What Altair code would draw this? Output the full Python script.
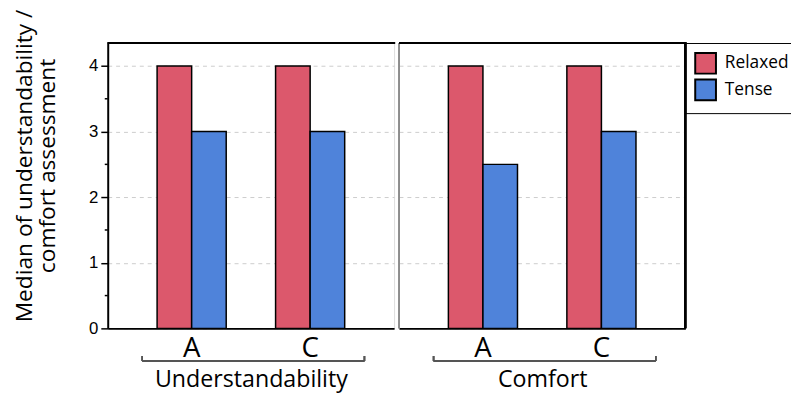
import altair as alt
import pandas as pd

group_names = ["Understandability", "Comfort"]
items = ["A", "C"]
conditions = ["Relaxed", "Tense"]
relaxed_vals = [4, 4, 4, 4]      # U-A, U-C, C-A, C-C
tense_vals = [3, 3, 2.5, 3]
y_ticks = [0, 1, 2, 3, 4]
minor_ticks = [0.5, 1.5, 2.5, 3.5]
colors = ["#DC586C", "#4F83DA"]

rows = []
k = 0
for g in group_names:
    for it in items:
        rows.append({"Group": g, "Item": it, "Condition": "Relaxed", "Value": relaxed_vals[k]})
        rows.append({"Group": g, "Item": it, "Condition": "Tense", "Value": tense_vals[k]})
        k += 1
df = pd.DataFrame(rows)

W, H = 290, 289
FONT = "Open Sans"
ymax = 4.35


def panel(group, first):
    d = df[df["Group"] == group]
    base = alt.Chart(d)
    if first:
        yaxis = alt.Axis(values=y_ticks, format="d", grid=True, gridDash=[4, 4], gridColor="#cccccc",
                         domainColor="black", domainWidth=2, tickColor="black", tickSize=7,
                         tickWidth=1.5, labelFont="Liberation Sans", labelFontSize=17,
                         labelColor="black", labelPadding=3,
                         title=["Median of understandability /", "comfort assessment"],
                         titleFont=FONT, titleFontSize=23, titleFontWeight="normal",
                         titleColor="black", titlePadding=29, titleLineHeight=24,
                         titleY=124)
    else:
        yaxis = alt.Axis(values=y_ticks, grid=True, gridDash=[4, 4], gridColor="#cccccc",
                         domain=False, ticks=False, labels=False, title=None)
    bars = base.mark_bar(stroke="black", strokeWidth=1.5).encode(
        x=alt.X("Item:N", sort=items,
                scale=alt.Scale(domain=items, paddingInner=0.4167, paddingOuter=0.4167),
                axis=alt.Axis(labelAngle=0, labelFont=FONT, labelFontSize=28, labelColor="black",
                              labelPadding=6, ticks=False, domainColor="black", domainWidth=2,
                              title=group, titleFont=FONT, titleFontSize=23.5,
                              titleFontWeight="normal", titleColor="black", titlePadding=6)),
        xOffset=alt.XOffset("Condition:N", sort=conditions,
                            scale=alt.Scale(domain=conditions, paddingInner=0, paddingOuter=0)),
        y=alt.Y("Value:Q", scale=alt.Scale(domain=[0, ymax], nice=False), axis=yaxis),
        color=alt.Color("Condition:N", sort=conditions,
                        scale=alt.Scale(domain=conditions, range=colors),
                        legend=alt.Legend(title=None, orient="right", offset=-3,
                                          strokeColor="black", padding=9,
                                          symbolType="square", symbolSize=441,
                                          symbolStrokeColor="black", symbolStrokeWidth=2,
                                          symbolOpacity=1,
                                          labelFont=FONT, labelFontSize=17.5, labelColor="black",
                                          rowPadding=-2, labelOffset=8)),
    )
    top = alt.Chart(d).mark_rule(color="black", strokeWidth=2).encode(
        x=alt.value(0), x2=alt.value(W + 1), y=alt.value(0))
    br_h = alt.Chart(d).mark_rule(color="#555555", strokeWidth=1.5).encode(
        x=alt.value(35), x2=alt.value(260), y=alt.value(H + 33))
    br_l = alt.Chart(d).mark_rule(color="#555555", strokeWidth=1.5).encode(
        x=alt.value(35), y=alt.value(H + 28), y2=alt.value(H + 33))
    br_r = alt.Chart(d).mark_rule(color="#555555", strokeWidth=1.5).encode(
        x=alt.value(260), y=alt.value(H + 28), y2=alt.value(H + 33))
    layers = [bars, top, br_h, br_l, br_r]
    if first:
        minor = alt.Chart(pd.DataFrame({"v": minor_ticks})).mark_rule(
            color="black", strokeWidth=1.5).encode(
            y=alt.Y("v:Q", scale=alt.Scale(domain=[0, ymax], nice=False)),
            x=alt.value(-3), x2=alt.value(0))
        layers.append(minor)
    else:
        sep = alt.Chart(d).mark_rule(color="#888888", strokeWidth=1).encode(
            x=alt.value(0), y=alt.value(0), y2=alt.value(H))
        right = alt.Chart(d).mark_rule(color="black", strokeWidth=2).encode(
            x=alt.value(W), y=alt.value(0), y2=alt.value(H))
        layers = [sep] + layers + [right]
    return alt.layer(*layers).properties(width=W, height=H)


chart = alt.hconcat(panel("Understandability", True), panel("Comfort", False), spacing=0).resolve_scale(
    color="shared"
).configure_view(stroke=None).configure_legend(strokeWidth=2).configure(
    background="white", padding={"left": 5, "top": -3, "right": -8, "bottom": 0})

chart.save("out.html", embed_options={"renderer": "svg", "actions": False})
